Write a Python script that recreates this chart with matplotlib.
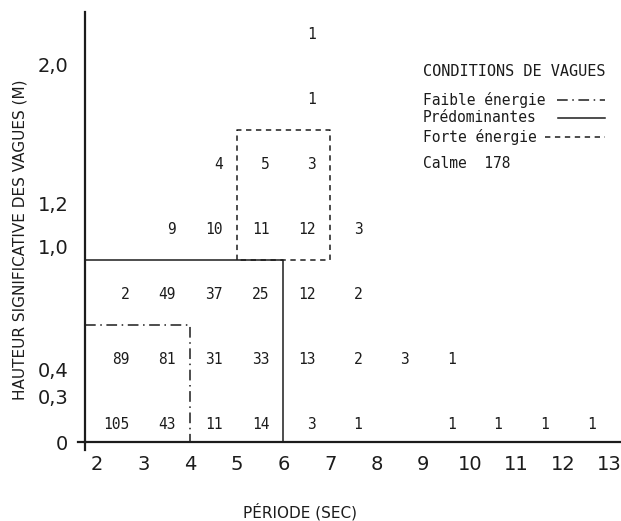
import numpy as np
import matplotlib
matplotlib.use('Agg')
import matplotlib.pyplot as plt

# Period classes (lower bound of each 1 s class, in seconds)
periods = [2, 3, 4, 5, 6, 7, 8, 9, 10, 11, 12]
period_ticks = [2, 3, 4, 5, 6, 7, 8, 9, 10, 11, 12, 13]

# Wave counts per height class (row 0 = lowest waves), one value per period class
counts = [
    [105, 43, 11, 14, 3, 1, 0, 1, 1, 1, 1],
    [89, 81, 31, 33, 13, 2, 3, 1, 0, 0, 0],
    [2, 49, 37, 25, 12, 2, 0, 0, 0, 0, 0],
    [0, 9, 10, 11, 12, 3, 0, 0, 0, 0, 0],
    [0, 0, 4, 5, 3, 0, 0, 0, 0, 0, 0],
    [0, 0, 0, 0, 1, 0, 0, 0, 0, 0, 0],
    [0, 0, 0, 0, 1, 0, 0, 0, 0, 0, 0],
]

# Height axis labels and where they sit (in height-class units)
height_labels = ['0', '0,3', '0,4', '1,0', '1,2', '2,0']
height_label_pos = [-0.3, 0.40, 0.82, 2.71, 3.37, 5.51]

# Wave condition boxes: (period max, upper height class boundary)
faible_box = (4, 1.5)
predom_box = (6, 2.5)
forte_box = (5, 7, 2.5, 4.5)  # period min, period max, class min, class max

calme = 178

ink = '#1c1c1c'
mono = 'DejaVu Sans Mono'

fig = plt.figure(figsize=(6.21, 5.21), dpi=100)
ax = fig.add_axes([85 / 621, 79 / 521, 535 / 621, 430 / 521])

xmin, xmax = 1.742, 13.22
ymin, ymax = -0.3, 6.32
ax.set_xlim(xmin, xmax)
ax.set_ylim(ymin, ymax)

# counts, right aligned a little past the middle of each class
for row, values in enumerate(counts):
    for p, n in zip(periods, values):
        if n == 0:
            continue
        ax.annotate(str(n), (p + 0.5, row), xytext=(6.5, 0), textcoords='offset points',
                    ha='right', va='center_baseline', fontsize=10.5, family=mono, color=ink)

# boxes
ax.plot([forte_box[0], forte_box[0], forte_box[1], forte_box[1], forte_box[0]],
        [forte_box[2], forte_box[3], forte_box[3], forte_box[2], forte_box[2]],
        color=ink, lw=1.1, linestyle=(0, (3.5, 3)), zorder=2)
ax.plot([xmin, predom_box[0], predom_box[0]], [predom_box[1], predom_box[1], ymin],
        color=ink, lw=1.1, zorder=3)
ax.plot([xmin, faible_box[0], faible_box[0]], [faible_box[1], faible_box[1], ymin],
        color=ink, lw=1.1, linestyle=(0, (7, 3, 1, 3)), zorder=3)

# axes
for side in ['top', 'right']:
    ax.spines[side].set_visible(False)
for side in ['left', 'bottom']:
    ax.spines[side].set_linewidth(1.6)
    ax.spines[side].set_color(ink)
ax.plot([0, 0], [0, -8 / 430], transform=ax.transAxes, color=ink, lw=1.6, clip_on=False)
ax.plot([-7 / 535, 0], [0, 0], transform=ax.transAxes, color=ink, lw=1.6, clip_on=False)

ax.set_xticks(period_ticks)
ax.set_xticklabels([str(t) for t in period_ticks])
ax.set_yticks(height_label_pos)
ax.set_yticklabels(height_labels)
ax.tick_params(axis='both', length=0, labelsize=14, colors=ink)
ax.tick_params(axis='x', pad=9)
ax.tick_params(axis='y', pad=12)

fig.text(300 / 621, 1 - 512 / 521, 'PÉRIODE (SEC)', ha='center', va='center',
         fontsize=11, color=ink)
fig.text(20 / 621, 1 - 240 / 521, 'HAUTEUR SIGNIFICATIVE DES VAGUES (M)', rotation=90,
         ha='center', va='center', fontsize=11, color=ink)

# legend block
lx = (423 - 85) / 535
ax.text(lx, (442 - 72) / 430, 'CONDITIONS DE VAGUES', transform=ax.transAxes,
        ha='left', va='center', fontsize=11, family=mono, color=ink)
entries = [('Faible énergie', 100, 557, (0, (7, 3, 1, 3))),
           ('Prédominantes', 118, 558, '-'),
           ('Forte énergie', 137, 545, (0, (3.5, 3)))]
for label, py, x0, ls in entries:
    yy = (442 - py) / 430
    ax.text(lx, yy, label, transform=ax.transAxes, ha='left', va='center',
            fontsize=10.5, family=mono, color=ink)
    ax.plot([(x0 - 85) / 535, (605 - 85) / 535], [yy, yy], transform=ax.transAxes,
            color=ink, lw=1.1, linestyle=ls)
ax.text(lx, (442 - 163) / 430, 'Calme  %d' % calme, transform=ax.transAxes,
        ha='left', va='center', fontsize=10.5, family=mono, color=ink)

fig.savefig('out.png', dpi=100, facecolor='white')
